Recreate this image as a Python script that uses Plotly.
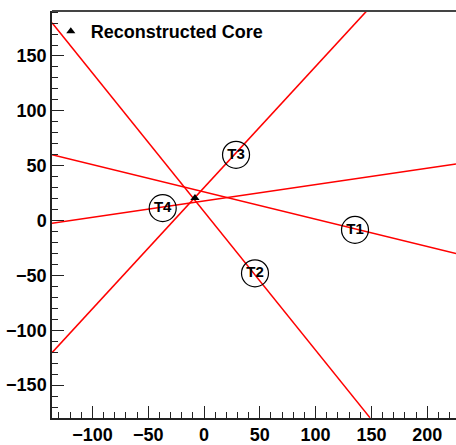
import plotly.graph_objects as go

# Track lines, each given by its two end points (x1, y1) -> (x2, y2)
track_x1 = [-136.2, -136.2, -136.2, -136.2]
track_y1 = [59.9, 180.3, -120.4, -2.4]
track_x2 = [225.8, 148.7, 145.8, 225.8]
track_y2 = [-30.1, -179.7, 191.1, 51.6]

# Telescope positions and names
tel_names = ["T1", "T2", "T3", "T4"]
tel_x = [135.3, 45.7, 28.7, -37.0]
tel_y = [-8.5, -48.1, 59.9, 11.3]

# Reconstructed shower core
core_x = [-8.1]
core_y = [20.5]

x_range = [-136.2, 225.8]
y_range = [-180, 191]

FONT = "Liberation Sans, Arial, Helvetica, sans-serif"

fig = go.Figure()

for x1, y1, x2, y2 in zip(track_x1, track_y1, track_x2, track_y2):
    fig.add_trace(go.Scatter(
        x=[x1, x2], y=[y1, y2], mode="lines",
        line=dict(color="#ff0000", width=1.5),
        showlegend=False, hoverinfo="skip",
    ))

fig.add_trace(go.Scatter(
    x=tel_x, y=tel_y, mode="markers+text", text=tel_names,
    textposition="middle center",
    textfont=dict(family=FONT, size=15, color="black", weight="bold"),
    marker=dict(symbol="circle-open", size=27, color="black",
                line=dict(color="black", width=1.2)),
    showlegend=False,
))

fig.add_trace(go.Scatter(
    x=core_x, y=core_y, mode="markers", name="Reconstructed Core",
    marker=dict(symbol="triangle-up", size=8, color="black"),
    showlegend=True,
))

axis_common = dict(
    showgrid=False, zeroline=False,
    showline=True, linecolor="#222", linewidth=1.5,
    ticks="inside", ticklen=12, tickwidth=1, tickcolor="#222",
    tick0=0, dtick=50,
    tickfont=dict(family=FONT, size=18, color="black", weight="bold"),
    minor=dict(ticks="inside", ticklen=6, dtick=10, tick0=0,
               tickcolor="#222", tickwidth=1),
)

fig.update_xaxes(range=x_range, **axis_common)
fig.update_yaxes(range=y_range, **axis_common)

# top frame line
fig.add_shape(type="line", xref="paper", yref="paper",
              x0=0, x1=1, y0=1, y1=1,
              line=dict(color="#444", width=2))

fig.update_layout(
    width=456, height=445,
    margin=dict(l=52, r=0, t=11, b=22),
    paper_bgcolor="white", plot_bgcolor="white",
    showlegend=True,
    legend=dict(
        x=-0.003, y=0.995, xanchor="left", yanchor="top",
        bgcolor="rgba(0,0,0,0)", borderwidth=0,
        itemwidth=30,
        font=dict(family=FONT, size=18, color="black", weight="bold"),
    ),
)

fig.write_html("out.html")
